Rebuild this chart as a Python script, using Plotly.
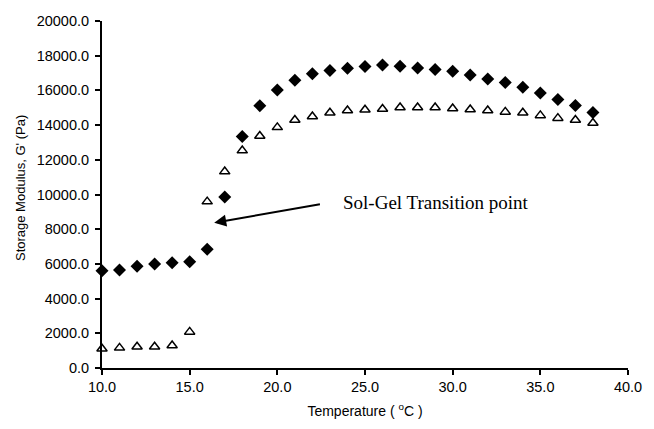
import plotly.graph_objects as go

temperature = list(range(10, 39))
g_diamond = [5600, 5650, 5860, 6000, 6060, 6120, 6840, 9850, 13350, 15120,
             16030, 16580, 16960, 17150, 17270, 17380, 17460, 17390, 17290,
             17210, 17100, 16890, 16650, 16460, 16180, 15850, 15470, 15130, 14730]
g_triangle = [1110, 1160, 1220, 1220, 1300, 2080, 9590, 11320, 12530, 13370,
              13870, 14290, 14500, 14710, 14840, 14880, 14930, 15010, 15010,
              15010, 14960, 14900, 14840, 14760, 14710, 14560, 14400, 14290, 14120]
x_ticks = [10, 15, 20, 25, 30, 35, 40]
y_ticks = list(range(0, 20001, 2000))

fig = go.Figure()
fig.add_trace(go.Scatter(
    x=temperature, y=g_diamond, mode="markers", name="G' (filled)",
    marker=dict(symbol="diamond", size=10, color="black"), cliponaxis=False))
fig.add_trace(go.Scatter(
    x=temperature, y=g_triangle, mode="markers", name="G' (open)",
    marker=dict(symbol="triangle-up-open", size=9, color="black",
                line=dict(width=1.5, color="black")), cliponaxis=False))

fig.add_annotation(x=16.4, y=8370, ax=22.6, ay=9470, xref="x", yref="y",
                   axref="x", ayref="y", text=" ", showarrow=True,
                   arrowhead=2, arrowsize=1.2, arrowwidth=2, arrowcolor="black")
fig.add_annotation(x=23.65, y=9550, xref="x", yref="y", text="Sol-Gel Transition point",
                   showarrow=False, xanchor="left", yanchor="middle",
                   font=dict(family="Liberation Serif, Times New Roman, serif", size=19, color="black"))
fig.add_annotation(x=-0.155, y=0.52, xref="paper", yref="paper",
                   text="Storage Modulus, G' (Pa)", textangle=-90, showarrow=False,
                   xanchor="center", yanchor="middle",
                   font=dict(family="Liberation Sans, Arial, sans-serif", size=13, color="black"))

axis_common = dict(showline=True, linecolor="black", linewidth=2, ticks="outside",
                   ticklen=5, tickwidth=2, tickcolor="black", showgrid=False,
                   zeroline=False, mirror=False,
                   tickfont=dict(family="Liberation Sans, Arial, sans-serif", size=14.5, color="black"))

fig.update_xaxes(range=[10, 40], tickvals=x_ticks, ticktext=[f"{v:.1f}" for v in x_ticks],
                 title=dict(text="Temperature ( <sup>o</sup>C )", standoff=12,
                            font=dict(family="Liberation Sans, Arial, sans-serif", size=14, color="black")),
                 **axis_common)
fig.update_yaxes(range=[0, 20000], tickvals=y_ticks, ticktext=[f"{v:.1f}" for v in y_ticks],
                 ticklabelstandoff=3, **axis_common)

fig.update_layout(width=654, height=429, margin=dict(l=102, r=15, t=21, b=60),
                  plot_bgcolor="white", paper_bgcolor="white", showlegend=False)

fig.write_html("out.html")
